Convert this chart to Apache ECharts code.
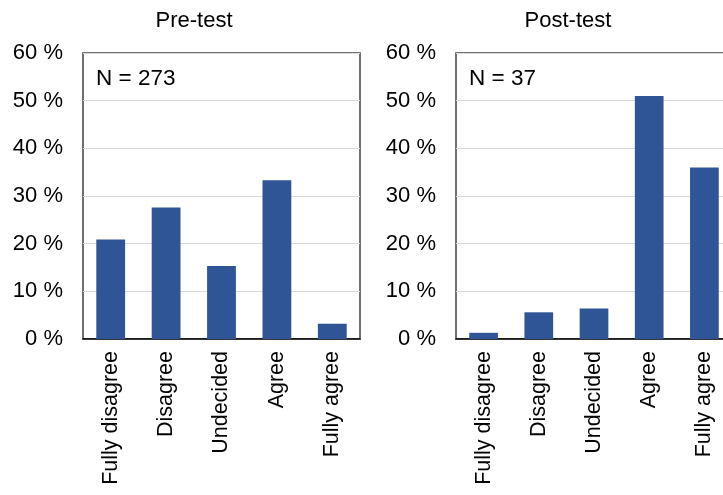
<!DOCTYPE html>
<html><head><meta charset="utf-8">
<script src="https://cdn.jsdelivr.net/npm/echarts@6/dist/echarts.min.js"></script>
<style>html,body{margin:0;padding:0;background:#fff;overflow:hidden}#c{width:745px;height:495px}</style>
</head><body><div id="c"></div>
<script>
const categories = ['Fully disagree','Disagree','Undecided','Agree','Fully agree'];
const preValues = [20.9, 27.6, 15.3, 33.3, 3.2];
const postValues = [1.3, 5.6, 6.4, 51.0, 36.0];
const panelTitles = ['Pre-test','Post-test'];
const panelNotes = ['N = 273','N = 37'];
const yTicks = {min:0, max:60, interval:10};

const FONT = '"Liberation Sans", Arial, sans-serif';
const BAR = '#2F5597';
const chart = echarts.init(document.getElementById('c'), null, {renderer:'canvas'});
const grids = [
  {left:83, top:53, width:277, height:286},
  {left:456, top:53, width:276, height:286}
];
const titleCenters = [189, 563];
function xAxis(i){return {type:'category', gridIndex:i, data:categories,
  axisLine:{show:true, lineStyle:{color:'#000', width:1.5}}, axisTick:{show:false},
  axisLabel:{rotate:90, fontFamily:FONT, fontSize:21.5, color:'#000', margin:12}};}
function yAxis(i){return {type:'value', gridIndex:i, min:yTicks.min, max:yTicks.max, interval:yTicks.interval,
  axisLine:{show:false}, axisTick:{show:false},
  axisLabel:{formatter:'{value} %', fontFamily:FONT, fontSize:22, color:'#000', margin:20},
  splitLine:{show:true, lineStyle:{color:'#d9d9d9', width:1}}};}
const titles = panelTitles.map((t,i)=>({text:t, left:titleCenters[i], top:5, textAlign:'center',
  textStyle:{fontFamily:FONT, fontSize:22, fontWeight:'normal', color:'#000'}}));
chart.setOption({
  animation:false,
  title:titles,
  grid:grids.map(g=>Object.assign({show:true, borderColor:'#404040', borderWidth:1.5, backgroundColor:'#fff'}, g)),
  xAxis:[xAxis(0), xAxis(1)],
  yAxis:[yAxis(0), yAxis(1)],
  graphic:panelNotes.map((n,i)=>({type:'text', left:grids[i].left+13, top:67,
    style:{text:n, fontFamily:FONT, fontSize:22.5, fill:'#000'}})),
  series:[
    {type:'bar', xAxisIndex:0, yAxisIndex:0, data:preValues, barWidth:'52%', itemStyle:{color:BAR}},
    {type:'bar', xAxisIndex:1, yAxisIndex:1, data:postValues, barWidth:'52%', itemStyle:{color:BAR}}
  ]
});
</script></body></html>
